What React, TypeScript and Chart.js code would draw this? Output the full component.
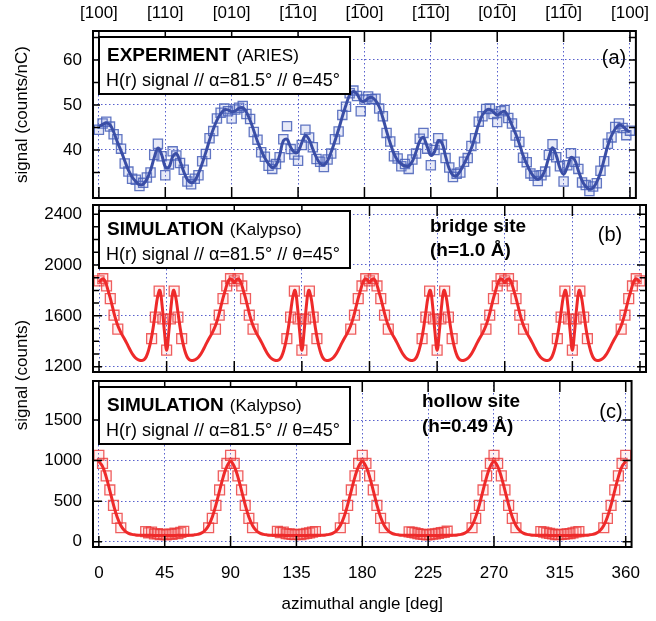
import React, { useEffect, useRef } from 'react';
import { Chart, registerables } from 'chart.js';

Chart.register(...registerables);

const FONT = "'Liberation Sans', Arial, Helvetica, sans-serif";
Chart.defaults.font.family = FONT;
Chart.defaults.font.size = 17;
Chart.defaults.color = '#000';

// ---------- axes / labels ----------
const X_MIN = -4;
const X_MAX = 364;
const X_TICKS = [0, 45, 90, 135, 180, 225, 270, 315, 360];
const TOP_LABELS = ['[100]', '[110]', '[010]', '[1\u030510]', '[1\u030500]', '[1\u03051\u03050]', '[01\u03050]', '[11\u03050]', '[100]'];
const X_TITLE = 'azimuthal angle [deg]';

const A_Y_TICKS = [35, 40, 45, 50, 55, 60, 65];
const B_Y_TICKS = [1200, 1300, 1400, 1500, 1600, 1700, 1800, 1900, 2000, 2100, 2200, 2300, 2400];
const C_Y_TICKS = [0, 500, 1000, 1500];

// ---------- (a) experiment: fit curve and measured points, every 2.5 deg from 0 ----------
const EXP_STEP = 2.5;
const EXP_FIT = [
  45.2, 45.7, 46.0, 45.6, 44.0, 41.8, 39.8, 37.6, 35.5, 34.0,
  33.0, 32.3, 32.4, 33.5, 35.5, 38.3, 40.4, 39.0, 36.3, 36.2,
  38.5, 39.2, 37.5, 35.2, 33.4, 32.7, 33.2, 34.8, 37.0, 39.5,
  42.2, 44.6, 46.6, 48.0, 48.9, 48.9, 48.5, 48.7, 49.3, 49.4,
  48.4, 46.6, 44.3, 41.9, 39.9, 38.2, 36.9, 36.1, 36.6, 38.8,
  42.0, 42.4, 40.6, 39.5, 39.6, 41.6, 43.2, 42.3, 40.2, 38.3,
  37.0, 36.7, 37.6, 39.6, 42.0, 44.6, 47.4, 50.0, 52.2, 53.0,
  52.4, 51.0, 50.8, 51.5, 51.7, 51.0, 49.6, 47.1, 44.2, 41.5,
  39.2, 37.7, 36.9, 36.4, 36.4, 37.5, 39.6, 42.0, 42.8, 40.8,
  38.8, 39.6, 42.0, 41.6, 38.6, 35.8, 34.4, 34.3, 35.4, 36.9,
  38.6, 40.4, 43.0, 45.8, 47.8, 48.8, 49.0, 48.4, 47.8, 48.3,
  48.6, 47.4, 45.5, 43.6, 41.4, 38.8, 36.9, 35.2, 34.0, 33.5,
  34.0, 35.6, 38.4, 40.5, 38.8, 36.0, 34.6, 36.2, 38.3, 37.8,
  35.4, 33.2, 31.9, 31.3, 31.6, 32.9, 35.0, 37.9, 41.0, 43.2,
  44.7, 45.5, 45.3, 44.5, 44.0,
];
const EXP_DATA = [
  44.5, 45.9, 46.3, 45.2, 43.5, 42.4, 40.3, 37.0, 35.2, 33.6,
  33.4, 32.0, 32.7, 33.9, 35.0, 38.9, 41.4, 38.6, 34.4, 36.8,
  39.7, 38.8, 37.1, 35.6, 33.0, 32.4, 33.6, 34.4, 37.5, 39.1,
  42.6, 44.2, 47.0, 48.3, 49.2, 48.6, 47.0, 49.0, 49.4, 49.8,
  48.0, 46.9, 44.0, 42.3, 39.5, 38.5, 36.5, 35.8, 36.9, 38.4,
  42.4, 45.3, 40.2, 39.0, 37.6, 41.1, 44.5, 42.8, 40.6, 38.0,
  37.4, 36.2, 37.9, 39.2, 42.4, 44.1, 47.8, 49.6, 52.6, 53.2,
  52.0, 48.6, 51.2, 51.9, 51.3, 51.4, 49.2, 47.5, 43.8, 41.9,
  38.6, 38.1, 36.4, 36.9, 35.8, 37.9, 39.2, 42.5, 43.8, 40.3,
  36.6, 40.0, 42.6, 41.2, 38.2, 36.1, 34.0, 34.7, 35.0, 37.4,
  38.2, 40.9, 42.6, 46.3, 47.5, 49.1, 49.2, 48.0, 46.2, 48.6,
  48.9, 47.1, 45.9, 43.2, 41.8, 38.3, 37.3, 34.8, 34.3, 33.1,
  34.4, 35.2, 38.9, 41.3, 38.4, 36.4, 33.0, 36.6, 39.3, 37.4,
  35.8, 32.8, 32.2, 30.9, 31.9, 32.6, 35.4, 37.5, 41.4, 42.8,
  45.1, 45.9, 44.9, 43.3, 44.3,
];

// ---------- (b) bridge site simulation: curve every 1.5 deg from 0 ----------
const BRIDGE_STEP = 1.5;
const BRIDGE_FIT = [
  1862, 1884, 1890, 1860, 1800, 1740, 1668, 1598, 1540, 1495, 1458, 1428, 1395, 1360, 1325, 1295, 1272, 1258, 1250, 1248, 1255, 1280, 1330, 1405, 1505, 1630, 1750, 1800, 1680, 1480, 1330,
  1480, 1680, 1800, 1750, 1630, 1505, 1405, 1330, 1280, 1255, 1248, 1250, 1258, 1272, 1295, 1325, 1360, 1395, 1428, 1458, 1495, 1540, 1598, 1668, 1740, 1800, 1860, 1890, 1884, 1862,
  1884, 1890, 1860, 1800, 1740, 1668, 1598, 1540, 1495, 1458, 1428, 1395, 1360, 1325, 1295, 1272, 1258, 1250, 1248, 1255, 1280, 1330, 1405, 1505, 1630, 1750, 1800, 1680, 1480, 1330,
  1480, 1680, 1800, 1750, 1630, 1505, 1405, 1330, 1280, 1255, 1248, 1250, 1258, 1272, 1295, 1325, 1360, 1395, 1428, 1458, 1495, 1540, 1598, 1668, 1740, 1800, 1860, 1890, 1884, 1862,
  1884, 1890, 1860, 1800, 1740, 1668, 1598, 1540, 1495, 1458, 1428, 1395, 1360, 1325, 1295, 1272, 1258, 1250, 1248, 1255, 1280, 1330, 1405, 1505, 1630, 1750, 1800, 1680, 1480, 1330,
  1480, 1680, 1800, 1750, 1630, 1505, 1405, 1330, 1280, 1255, 1248, 1250, 1258, 1272, 1295, 1325, 1360, 1395, 1428, 1458, 1495, 1540, 1598, 1668, 1740, 1800, 1860, 1890, 1884, 1862,
  1884, 1890, 1860, 1800, 1740, 1668, 1598, 1540, 1495, 1458, 1428, 1395, 1360, 1325, 1295, 1272, 1258, 1250, 1248, 1255, 1280, 1330, 1405, 1505, 1630, 1750, 1800, 1680, 1480, 1330,
  1480, 1680, 1800, 1750, 1630, 1505, 1405, 1330, 1280, 1255, 1248, 1250, 1258, 1272, 1295, 1325, 1360, 1395, 1428, 1458, 1495, 1540, 1598, 1668, 1740, 1800, 1860, 1890, 1884, 1862,
];
const BRIDGE_ANGLES = [
  0, 2.5, 5, 7.5, 10, 12.5,
  35, 37.5, 40, 42.5, 45, 47.5, 50, 52.5, 55,
  77.5, 80, 82.5, 85, 87.5, 90, 92.5, 95, 97.5, 100, 102.5,
  125, 127.5, 130, 132.5, 135, 137.5, 140, 142.5, 145,
  167.5, 170, 172.5, 175, 177.5, 180, 182.5, 185, 187.5, 190, 192.5,
  215, 217.5, 220, 222.5, 225, 227.5, 230, 232.5, 235,
  257.5, 260, 262.5, 265, 267.5, 270, 272.5, 275, 277.5, 280, 282.5,
  305, 307.5, 310, 312.5, 315, 317.5, 320, 322.5, 325,
  347.5, 350, 352.5, 355, 357.5, 360,
];
const BRIDGE_DATA = [
  1875, 1892, 1835, 1735, 1605, 1495,
  1420, 1590, 1795, 1575, 1330, 1575, 1795, 1590, 1420,
  1495, 1605, 1735, 1835, 1892, 1875, 1892, 1835, 1735, 1605, 1495,
  1420, 1590, 1795, 1575, 1330, 1575, 1795, 1590, 1420,
  1495, 1605, 1735, 1835, 1892, 1875, 1892, 1835, 1735, 1605, 1495,
  1420, 1590, 1795, 1575, 1330, 1575, 1795, 1590, 1420,
  1495, 1605, 1735, 1835, 1892, 1875, 1892, 1835, 1735, 1605, 1495,
  1420, 1590, 1795, 1575, 1330, 1575, 1795, 1590, 1420,
  1495, 1605, 1735, 1835, 1892, 1875,
];

// ---------- (c) hollow site simulation: curve every 2.5 deg from 0 ----------
const HOLLOW_STEP = 2.5;
const HOLLOW_FIT = [
  990, 930, 800, 630, 455, 305, 200, 138, 106, 91, 84, 81, 80, 79, 79, 78, 78, 78, 78,
  78, 78, 78, 79, 79, 80, 81, 84, 91, 106, 138, 200, 305, 455, 630, 800, 930, 990,
  930, 800, 630, 455, 305, 200, 138, 106, 91, 84, 81, 80, 79, 79, 78, 78, 78, 78,
  78, 78, 78, 79, 79, 80, 81, 84, 91, 106, 138, 200, 305, 455, 630, 800, 930, 990,
  930, 800, 630, 455, 305, 200, 138, 106, 91, 84, 81, 80, 79, 79, 78, 78, 78, 78,
  78, 78, 78, 79, 79, 80, 81, 84, 91, 106, 138, 200, 305, 455, 630, 800, 930, 990,
  930, 800, 630, 455, 305, 200, 138, 106, 91, 84, 81, 80, 79, 79, 78, 78, 78, 78,
  78, 78, 78, 79, 79, 80, 81, 84, 91, 106, 138, 200, 305, 455, 630, 800, 930, 990,
];
const HOLLOW_ANGLES = [
  0, 2.5, 5, 7.5, 10, 12.5, 15,
  32, 34, 36, 38, 40, 42, 44, 46, 48, 50, 52, 54, 56, 58,
  75, 77.5, 80, 82.5, 85, 87.5, 90, 92.5, 95, 97.5, 100, 102.5, 105,
  122, 124, 126, 128, 130, 132, 134, 136, 138, 140, 142, 144, 146, 148,
  165, 167.5, 170, 172.5, 175, 177.5, 180, 182.5, 185, 187.5, 190, 192.5, 195,
  212, 214, 216, 218, 220, 222, 224, 226, 228, 230, 232, 234, 236, 238,
  255, 257.5, 260, 262.5, 265, 267.5, 270, 272.5, 275, 277.5, 280, 282.5, 285,
  302, 304, 306, 308, 310, 312, 314, 316, 318, 320, 322, 324, 326, 328,
  345, 347.5, 350, 352.5, 355, 357.5, 360,
];
const HOLLOW_DATA = [
  1065, 965, 812, 638, 448, 288, 172,
  125, 110, 118, 95, 100, 88, 92, 85, 95, 90, 105, 100, 115, 128,
  172, 288, 448, 638, 812, 965, 1065, 965, 812, 638, 448, 288, 172,
  128, 112, 120, 98, 96, 90, 86, 92, 88, 95, 102, 108, 118, 126,
  172, 288, 448, 638, 812, 965, 1065, 965, 812, 638, 448, 288, 172,
  122, 115, 110, 100, 92, 90, 85, 88, 94, 96, 104, 112, 116, 130,
  172, 288, 448, 638, 812, 965, 1065, 965, 812, 638, 448, 288, 172,
  126, 118, 108, 102, 95, 88, 86, 90, 92, 98, 100, 110, 120, 124,
  172, 288, 448, 638, 812, 965, 1065,
];

// ---------- styling ----------
const GRID = 'rgba(70,80,200,0.9)';
const DASH = [1.5, 2.5];
const BLUE_LINE = '#3a4ea6';
const BLUE_MARK = 'rgba(70,95,185,0.85)';
const BLUE_FILL = 'rgba(120,140,215,0.18)';
const RED_LINE = '#ee2a2a';
const RED_MARK = 'rgba(235,55,55,0.8)';
const RED_FILL = 'rgba(255,160,160,0.15)';
const LINE2 = 'H(r) signal // \u03b1=81.5\u00b0 // \u03b8=45\u00b0';

const W = 656;
const H = 621;

function ticksOf(values: number[]) {
  return (s: any) => {
    s.ticks = values.map((v) => ({ value: v }));
  };
}

function xBottom(areaBottom: number, labels: boolean) {
  return {
    type: 'linear',
    position: 'bottom',
    bounds: 'data',
    min: X_MIN,
    max: X_MAX,
    afterBuildTicks: ticksOf(X_TICKS),
    ticks: { display: labels, autoSkip: false, maxRotation: 0, minRotation: 0, padding: 16, color: '#000', font: { size: 17 } },
    grid: { drawTicks: false, color: GRID, lineWidth: 1 },
    border: { display: false, dash: DASH },
    title: { display: labels, text: X_TITLE, color: '#000', font: { size: 17 }, padding: { top: 0, bottom: 6 } },
    afterFit: (s: any) => {
      s.height = H - areaBottom;
    },
  };
}

function yLeft(min: number, max: number, values: number[], major: number, title?: string) {
  return {
    type: 'linear',
    position: 'left',
    bounds: 'data',
    min,
    max,
    afterBuildTicks: ticksOf(values),
    ticks: {
      autoSkip: false,
      padding: 11,
      color: '#000',
      font: { size: 17 },
      callback: (v: any) => (Number(v) % major === 0 ? String(v) : ''),
    },
    grid: {
      drawTicks: false,
      lineWidth: 1,
      color: (c: any) => (c.tick && c.tick.value % major === 0 ? GRID : 'rgba(0,0,0,0)'),
    },
    border: { display: false, dash: DASH },
    title: title
      ? { display: true, text: title, color: '#000', font: { size: 17 }, padding: { top: 12, bottom: 0 } }
      : { display: false },
    afterFit: (s: any) => {
      s.width = 93;
    },
  };
}

type Txt = { text: string; x: number; y: number; font: string; align?: CanvasTextAlign; rot?: boolean };
type Decor = {
  major: number;
  majorLen: number;
  minorLen: number;
  bold: string;
  rest: string;
  texts: Txt[];
};

function decor(d: Decor) {
  return {
    id: 'decor',
    afterDatasetsDraw(chart: any) {
      const { ctx, chartArea: a } = chart;
      const xs = chart.scales.x;
      const ys = chart.scales.y;
      ctx.save();
      ctx.strokeStyle = '#000';
      ctx.lineWidth = 1.5;
      ctx.beginPath();
      for (const t of xs.ticks) {
        const px = xs.getPixelForValue(t.value);
        ctx.moveTo(px, a.top);
        ctx.lineTo(px, a.top + 11);
        ctx.moveTo(px, a.bottom);
        ctx.lineTo(px, a.bottom - 11);
      }
      for (const t of ys.ticks) {
        const py = ys.getPixelForValue(t.value);
        if (py < a.top + 4 || py > a.bottom - 4) continue;
        const len = t.value % d.major === 0 ? d.majorLen : d.minorLen;
        ctx.moveTo(a.left, py);
        ctx.lineTo(a.left + len, py);
        ctx.moveTo(a.right, py);
        ctx.lineTo(a.right - len, py);
      }
      ctx.stroke();
      ctx.lineWidth = 2;
      ctx.strokeRect(a.left, a.top, a.right - a.left, a.bottom - a.top);

      // annotation box
      const bx = a.left + 6;
      const by = a.top + 6;
      const bw = 251;
      const bh = 57;
      ctx.fillStyle = '#fff';
      ctx.fillRect(bx, by, bw, bh);
      ctx.strokeRect(bx, by, bw, bh);
      ctx.fillStyle = '#000';
      ctx.textBaseline = 'middle';
      ctx.textAlign = 'left';
      ctx.font = `bold 19px ${FONT}`;
      ctx.fillText(d.bold, bx + 8, by + 19);
      const w = ctx.measureText(d.bold).width;
      ctx.font = `17px ${FONT}`;
      ctx.fillText(d.rest, bx + 8 + w + 6, by + 19);
      ctx.font = `18px ${FONT}`;
      ctx.fillText(LINE2, bx + 7, by + 44);

      for (const t of d.texts) {
        ctx.font = t.font;
        ctx.textAlign = t.align || 'left';
        if (t.rot) {
          ctx.save();
          ctx.translate(t.x, t.y);
          ctx.rotate(-Math.PI / 2);
          ctx.fillText(t.text, 0, 0);
          ctx.restore();
        } else {
          ctx.fillText(t.text, t.x, t.y);
        }
      }
      ctx.restore();
    },
  };
}

function curve(values: number[], step: number) {
  return values.map((v, i) => ({ x: i * step, y: v }));
}
function points(angles: number[], values: number[]) {
  return angles.map((a, i) => ({ x: a, y: values[i] }));
}

function lineSet(data: any[], color: string) {
  return {
    data,
    borderColor: color,
    borderWidth: 3,
    pointRadius: 0,
    tension: 0.4,
    fill: false,
    order: 0,
  };
}
function markSet(data: any[], stroke: string, fillc: string, r: number) {
  return {
    data,
    showLine: false,
    pointStyle: 'rect',
    pointRadius: r,
    pointBorderWidth: 1.3,
    pointBorderColor: stroke,
    pointBackgroundColor: fillc,
    borderColor: stroke,
    backgroundColor: fillc,
    order: 1,
  };
}

const baseOptions = {
  responsive: false,
  animation: false,
  devicePixelRatio: 1,
  plugins: { legend: { display: false }, tooltip: { enabled: false } },
  events: [],
};

function configA(): any {
  return {
    type: 'line',
    data: {
      datasets: [
        lineSet(curve(EXP_FIT, EXP_STEP), BLUE_LINE),
        markSet(curve(EXP_DATA, EXP_STEP), BLUE_MARK, BLUE_FILL, 6.5),
      ],
    },
    options: {
      ...baseOptions,
      layout: { padding: { left: 0, right: 10, top: 0, bottom: 0 } },
      scales: {
        x: xBottom(198, false),
        xTop: {
          type: 'linear',
          position: 'top',
          bounds: 'data',
          min: X_MIN,
          max: X_MAX,
          afterBuildTicks: ticksOf(X_TICKS),
          ticks: {
            autoSkip: false,
            maxRotation: 0,
            minRotation: 0,
            padding: 7,
            color: '#000',
            font: { size: 17, family: "'Liberation Sans', 'DejaVu Sans', sans-serif" },
            callback: (v: any) => TOP_LABELS[Math.round(Number(v) / 45)] ?? '',
          },
          grid: { display: false, drawTicks: false },
          border: { display: false },
          afterFit: (s: any) => {
            s.height = 31;
          },
        },
        y: yLeft(29.33, 66.44, A_Y_TICKS, 10, 'signal (counts/nC)'),
      },
    },
    plugins: [
      decor({
        major: 10,
        majorLen: 7,
        minorLen: 7,
        bold: 'EXPERIMENT',
        rest: '(ARIES)',
        texts: [{ text: '(a)', x: 614, y: 58, font: `20px ${FONT}`, align: 'center' }],
      }),
    ],
  };
}

function configB(): any {
  return {
    type: 'line',
    data: {
      datasets: [
        lineSet(curve(BRIDGE_FIT, BRIDGE_STEP), RED_LINE),
        markSet(points(BRIDGE_ANGLES, BRIDGE_DATA), RED_MARK, RED_FILL, 7),
      ],
    },
    options: {
      ...baseOptions,
      layout: { padding: { left: 0, right: 10, top: 205, bottom: 0 } },
      scales: {
        x: xBottom(372, false),
        y: yLeft(1158, 2472, B_Y_TICKS, 400),
      },
    },
    plugins: [
      decor({
        major: 400,
        majorLen: 9,
        minorLen: 6,
        bold: 'SIMULATION',
        rest: '(Kalypso)',
        texts: [
          { text: '(b)', x: 610, y: 235, font: `20px ${FONT}`, align: 'center' },
          { text: 'bridge site', x: 430, y: 227, font: `bold 19px ${FONT}` },
          { text: '(h=1.0 \u00c5)', x: 430, y: 251, font: `bold 19px ${FONT}` },
        ],
      }),
    ],
  };
}

function configC(): any {
  return {
    type: 'line',
    data: {
      datasets: [
        lineSet(curve(HOLLOW_FIT, HOLLOW_STEP), RED_LINE),
        markSet(points(HOLLOW_ANGLES, HOLLOW_DATA), RED_MARK, RED_FILL, 7),
      ],
    },
    options: {
      ...baseOptions,
      layout: { padding: { left: 0, right: 10, top: 381, bottom: 0 } },
      scales: {
        x: xBottom(547, true),
        y: yLeft(-65, 1981, C_Y_TICKS, 500),
      },
    },
    plugins: [
      decor({
        major: 500,
        majorLen: 9,
        minorLen: 9,
        bold: 'SIMULATION',
        rest: '(Kalypso)',
        texts: [
          { text: '(c)', x: 611, y: 412, font: `20px ${FONT}`, align: 'center' },
          { text: 'hollow site', x: 422, y: 402, font: `bold 19px ${FONT}` },
          { text: '(h=0.49 \u00c5)', x: 422, y: 427, font: `bold 19px ${FONT}` },
          { text: 'signal (counts)', x: 22, y: 375, font: `17px ${FONT}`, align: 'center', rot: true },
        ],
      }),
    ],
  };
}

export default function App() {
  const ra = useRef<HTMLCanvasElement>(null);
  const rb = useRef<HTMLCanvasElement>(null);
  const rc = useRef<HTMLCanvasElement>(null);

  useEffect(() => {
    const charts = [
      new Chart(ra.current as HTMLCanvasElement, configA()),
      new Chart(rb.current as HTMLCanvasElement, configB()),
      new Chart(rc.current as HTMLCanvasElement, configC()),
    ];
    return () => charts.forEach((c) => c.destroy());
  }, []);

  const cs: React.CSSProperties = { position: 'absolute', left: 0, top: 0, width: W, height: H };
  return (
    <div style={{ position: 'absolute', left: 0, top: 0, width: W, height: H, background: '#fff' }}>
      <canvas ref={ra} width={W} height={H} style={cs} />
      <canvas ref={rb} width={W} height={H} style={cs} />
      <canvas ref={rc} width={W} height={H} style={cs} />
    </div>
  );
}
